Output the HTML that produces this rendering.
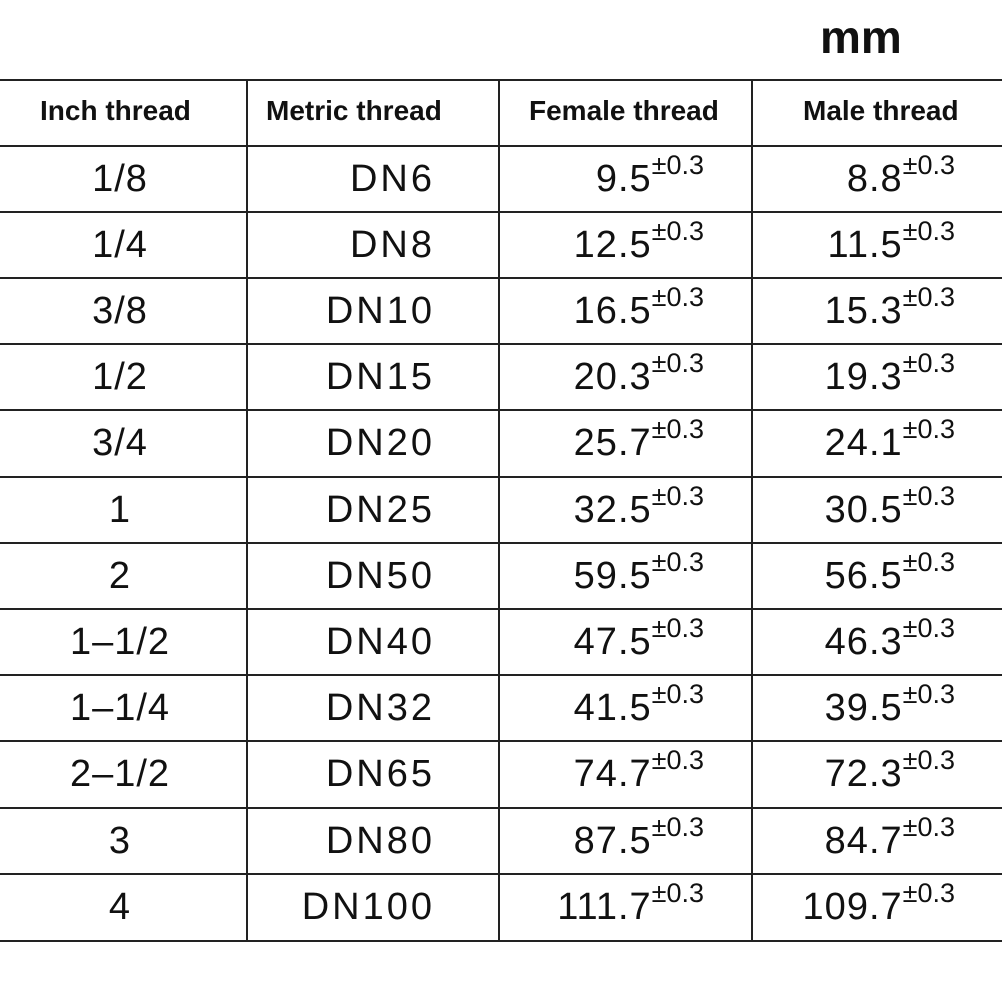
<!DOCTYPE html>
<html><head><meta charset="utf-8"><style>
body{margin:0;background:#fff;}
#wrap{position:relative;width:1002px;height:1002px;overflow:hidden;background:#fff;font-family:"Liberation Sans",Arial,sans-serif;color:#111;}
.h{position:absolute;left:0;width:1002px;height:2px;background:#222;}
.v{position:absolute;top:79px;width:2px;height:863px;background:#222;}
.t{position:absolute;white-space:nowrap;line-height:1;}
.hd{font-weight:bold;font-size:28px;top:97px;}
.d{font-size:38px;letter-spacing:1px;}
.sup{font-size:27px;position:relative;top:-17px;letter-spacing:0;}
</style></head><body>
<div id="wrap">
<div class="t" style="left:820px;top:14px;font-size:46px;font-weight:bold;">mm</div>
<div id="lines"></div>
<div class="t hd" style="left:40px;">Inch thread</div>
<div class="t hd" style="left:266px;">Metric thread</div>
<div class="t hd" style="left:529px;">Female thread</div>
<div class="t hd" style="left:803px;">Male thread</div>
<div id="rows"></div>
</div>
<script>
const inch=["1/8","1/4","3/8","1/2","3/4","1","2","1-1/2","1-1/4","2-1/2","3","4"];
const metric=["DN6","DN8","DN10","DN15","DN20","DN25","DN50","DN40","DN32","DN65","DN80","DN100"];
const female=["9.5","12.5","16.5","20.3","25.7","32.5","59.5","47.5","41.5","74.7","87.5","111.7"];
const male=["8.8","11.5","15.3","19.3","24.1","30.5","56.5","46.3","39.5","72.3","84.7","109.7"];
const W=document.getElementById('wrap');
const hy=[79,145,211,277,343,409,476,542,608,674,740,807,873,940];
hy.forEach(y=>{const e=document.createElement('div');e.className='h';e.style.top=y+'px';


W.appendChild(e);});
[246,498,751].forEach(x=>{const e=document.createElement('div');e.className='v';e.style.left=x+'px';


W.appendChild(e);});
function cell(html,style,name){const e=document.createElement('div');e.className='t d';e.innerHTML=html;e.style.cssText=style;


W.appendChild(e);return e;}
for(let i=0;i<inch.length;i++){
 const top=hy[i+1]+15;
 cell(inch[i].split('').join('<span style="display:inline-block;width:8px"></span>').replace(/-/g,'–'),`left:0;width:240px;text-align:center;top:${top}px;`,'inch-cell');
 cell(metric[i],`right:${1002-435}px;top:${top}px;letter-spacing:3px;`,'metric-cell');
 cell(female[i]+'<span class="sup">±0.3</span>',`right:${1002-704}px;top:${top}px;`,'female-cell');
 cell(male[i]+'<span class="sup">±0.3</span>',`right:${1002-955}px;top:${top}px;`,'male-cell');
}
</script>
</body></html>
